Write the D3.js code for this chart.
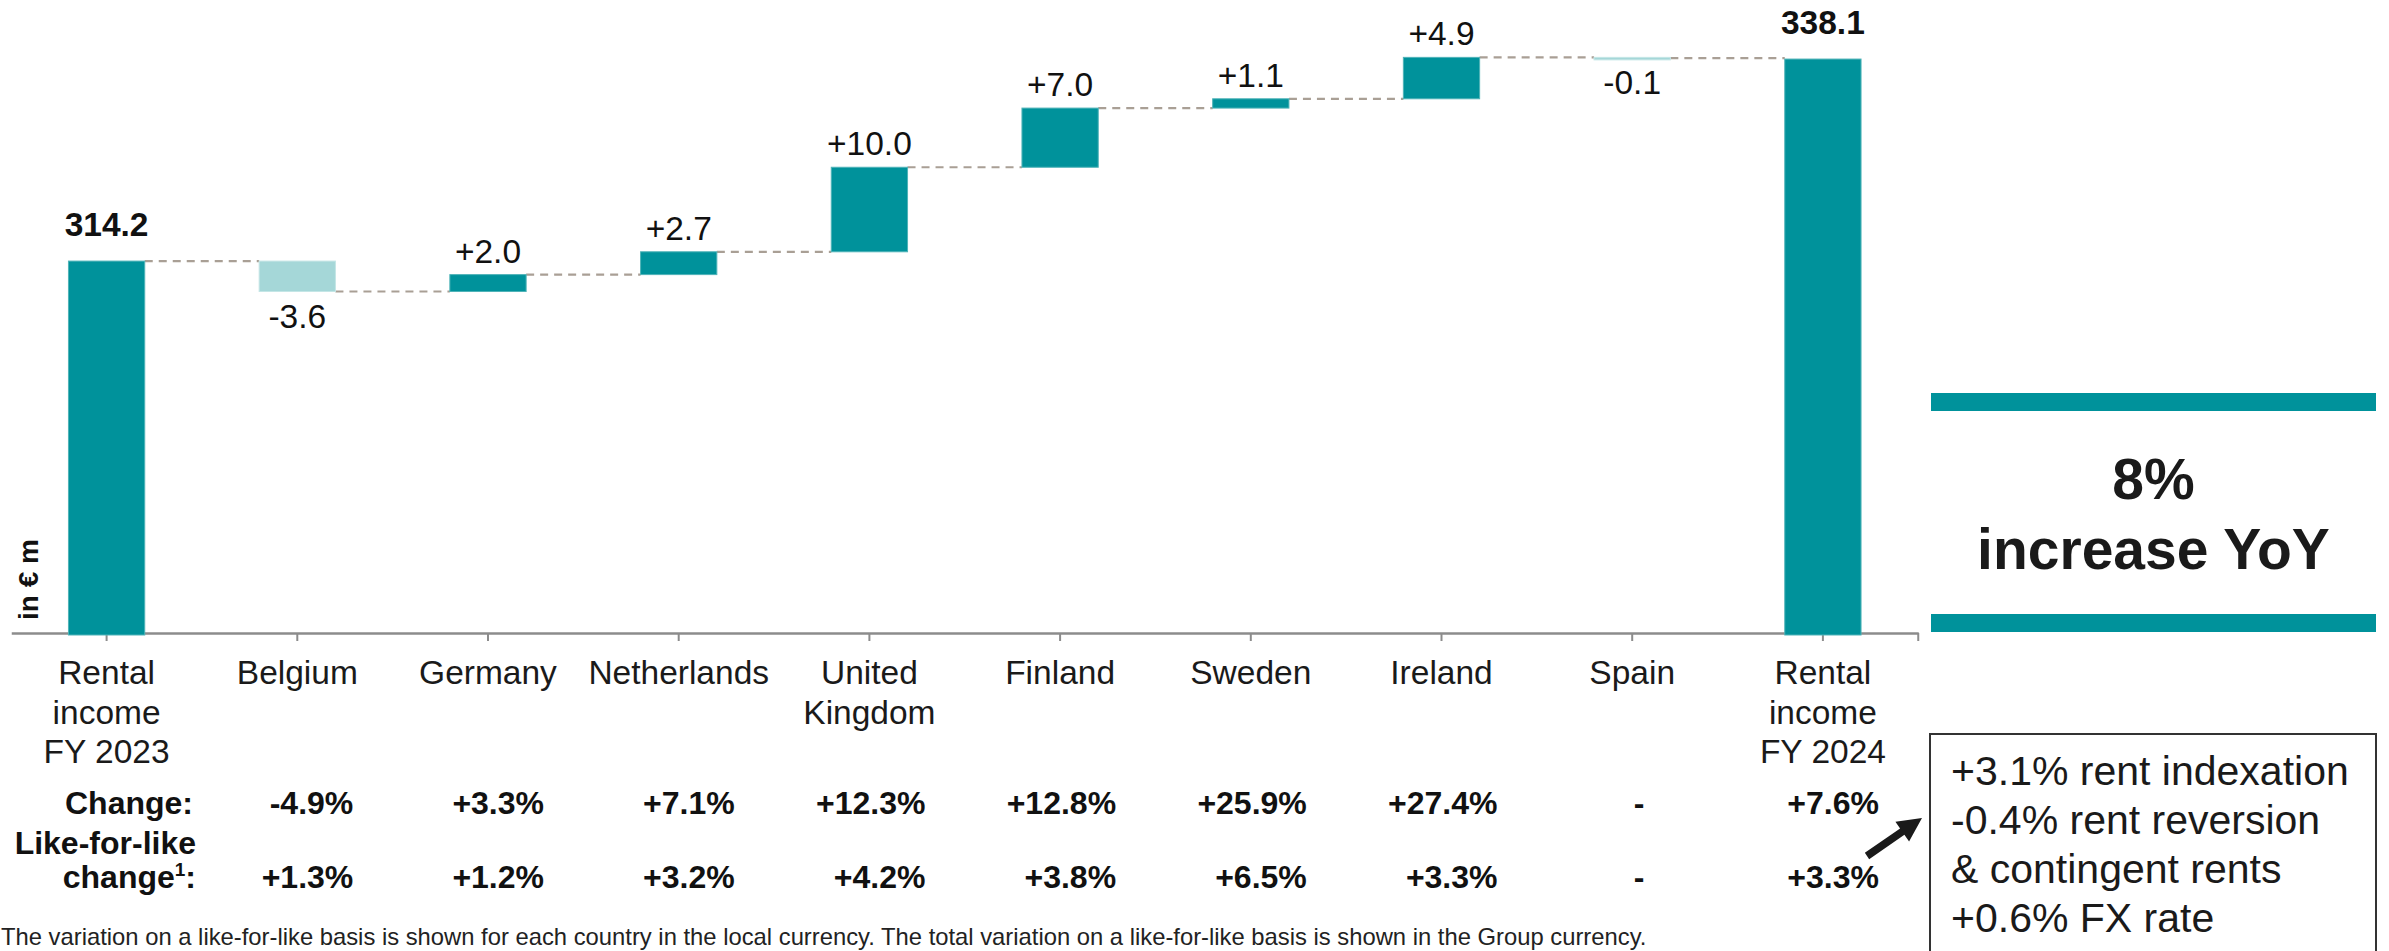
<!DOCTYPE html>
<html>
<head>
<meta charset="utf-8">
<script src="https://cdn.jsdelivr.net/npm/d3@7"></script>
<style>
    body { margin: 0; background: #fff; }
    svg { display: block; font-family: "Liberation Sans", Arial, sans-serif; }
</style>
</head>
<body>
<svg id="chart" width="2389" height="951"></svg>
<script>
// categories, each split into the lines shown under the axis
const categoryLines = [
    ["Rental", "income", "FY 2023"],
    ["Belgium"],
    ["Germany"],
    ["Netherlands"],
    ["United", "Kingdom"],
    ["Finland"],
    ["Sweden"],
    ["Ireland"],
    ["Spain"],
    ["Rental", "income", "FY 2024"]
]
const categories = categoryLines.map(d => d.join(" "))

// first and last are totals, the rest are changes (in € m)
const stepValues = [314.2, -3.6, 2.0, 2.7, 10.0, 7.0, 1.1, 4.9, -0.1, 338.1]
const stepLabels = ["314.2", "-3.6", "+2.0", "+2.7", "+10.0", "+7.0", "+1.1", "+4.9", "-0.1", "338.1"]

const changeLabels = ["", "-4.9%", "+3.3%", "+7.1%", "+12.3%", "+12.8%", "+25.9%", "+27.4%", "-", "+7.6%"]
const likeForLikeLabels = ["", "+1.3%", "+1.2%", "+3.2%", "+4.2%", "+3.8%", "+6.5%", "+3.3%", "-", "+3.3%"]

const headlineLines = ["8%", "increase YoY"]
const boxLines = ["+3.1% rent indexation", "-0.4% rent reversion", "& contingent rents", "+0.6% FX rate"]
const footnote = "The variation on a like-for-like basis is shown for each country in the local currency. The total variation on a like-for-like basis is shown in the Group currency."

const teal = "#00929b"
const lightTeal = "#a5d7d8"
const dashColor = "#a99f95"

let svg = d3.select("#chart")

// waterfall steps
let running = 0
let steps = stepValues.map((v, i) => {
    let total = i === 0 || i === stepValues.length - 1
    let start = total ? null : running
    let end = total ? v : running + v
    running = end
    return { cat: categories[i], value: v, total: total, start: start, end: end, label: stepLabels[i], i: i }
})

let x = d3.scaleBand()
    .domain(categories)
    .range([11.25, 1918.25])
    .paddingInner(0.6)
    .paddingOuter(0.3)

let y = d3.scaleLinear()
    .domain([270.2, 340])
    .range([633, 43])

let axisY = y.range()[0]

// axis with ticks at the bar centres
let axis = svg.append("g")
    .attr("transform", `translate(0,${axisY})`)
    .call(d3.axisBottom(x).tickSize(8).tickSizeOuter(0).tickFormat(""))
axis.select(".domain").attr("stroke", "#8c8c8c").attr("stroke-width", 2.5)
axis.selectAll(".tick line").attr("stroke", "#8c8c8c").attr("stroke-width", 2)
svg.append("line")
    .attr("x1", x.range()[1]).attr("x2", x.range()[1])
    .attr("y1", axisY).attr("y2", axisY + 8)
    .attr("stroke", "#8c8c8c").attr("stroke-width", 2)

// connectors
let connectors = steps.slice(0, -1).map((d, i) => ({ from: d, to: steps[i + 1], level: d.end }))
svg.append("g").selectAll("line")
    .data(connectors)
    .join("line")
    .attr("x1", d => x(d.from.cat) + x.bandwidth())
    .attr("x2", d => x(d.to.cat))
    .attr("y1", d => y(d.level))
    .attr("y2", d => y(d.level))
    .attr("stroke", dashColor)
    .attr("stroke-width", 2.2)
    .attr("stroke-dasharray", "8,6")

// bars
svg.append("g").selectAll("rect")
    .data(steps)
    .join("rect")
    .attr("x", d => x(d.cat))
    .attr("width", x.bandwidth())
    .attr("y", d => d.total ? y(d.value) : y(Math.max(d.start, d.end)))
    .attr("height", d => d.total ? axisY + 2 - y(d.value) : Math.max(2.5, Math.abs(y(d.start) - y(d.end))))
    .attr("fill", d => d.value < 0 ? lightTeal : teal)
    .attr("stroke", d => d.value < 0 ? "#c4e6e6" : "#4fb3b8")
    .attr("stroke-width", 1)

// value labels
svg.append("g").selectAll("text")
    .data(steps)
    .join("text")
    .attr("x", d => x(d.cat) + x.bandwidth() / 2)
    .attr("y", d => {
        if (d.total) return y(d.value) - 25
        if (d.value < 0) return y(d.end) + 36
        return y(d.end) - 12
    })
    .attr("text-anchor", "middle")
    .attr("font-size", 33.5)
    .attr("font-weight", d => d.total ? "bold" : "normal")
    .attr("fill", "#111")
    .text(d => d.label)

// category labels
let catText = svg.append("g").selectAll("text")
    .data(categoryLines.map((lines, i) => ({ lines: lines, cat: categories[i] })))
    .join("text")
    .attr("text-anchor", "middle")
    .attr("font-size", 33.5)
    .attr("fill", "#1a1a1a")
catText.selectAll("tspan")
    .data(d => d.lines.map(l => ({ text: l, cat: d.cat })))
    .join("tspan")
    .attr("x", d => x(d.cat) + x.bandwidth() / 2)
    .attr("y", (d, j) => 684 + j * 39.5)
    .text(d => d.text)

// like-for-like table
let rowBase = [814, 888]
let rows = [changeLabels, likeForLikeLabels]
rows.forEach((labels, r) => {
    svg.append("g").selectAll("text")
        .data(labels.map((l, i) => ({ text: l, cat: categories[i] })).filter(d => d.text !== ""))
        .join("text")
        .attr("x", d => d.text === "-" ? x(d.cat) + x.bandwidth() / 2 + 7 : x(d.cat) + x.bandwidth() / 2 + 56)
        .attr("y", rowBase[r])
        .attr("text-anchor", d => d.text === "-" ? "middle" : "end")
        .attr("font-size", 32)
        .attr("font-weight", "bold")
        .attr("fill", "#111")
        .text(d => d.text)
})

svg.append("text")
    .attr("x", 193).attr("y", rowBase[0])
    .attr("text-anchor", "end").attr("font-size", 32).attr("font-weight", "bold").attr("fill", "#111")
    .text("Change:")
svg.append("text")
    .attr("x", 196).attr("y", 854)
    .attr("text-anchor", "end").attr("font-size", 32).attr("font-weight", "bold").attr("fill", "#111")
    .text("Like-for-like")
let lfl = svg.append("text")
    .attr("x", 196).attr("y", rowBase[1])
    .attr("text-anchor", "end").attr("font-size", 32).attr("font-weight", "bold").attr("fill", "#111")
lfl.append("tspan").text("change")
lfl.append("tspan").attr("font-size", 19).attr("dy", -12).text("1")
lfl.append("tspan").attr("dy", 12).text(":")

// unit label
svg.append("text")
    .attr("transform", "translate(38,620) rotate(-90)")
    .attr("font-size", 28)
    .attr("font-weight", "bold")
    .attr("fill", "#111")
    .text("in € m")

// footnote
svg.append("text")
    .attr("x", 1).attr("y", 945)
    .attr("font-size", 23.8)
    .attr("fill", "#222")
    .text(footnote)

// right panel: headline between two teal rules
let panelX = 1931, panelW = 445
svg.append("rect").attr("x", panelX).attr("y", 393).attr("width", panelW).attr("height", 18).attr("fill", teal)
svg.append("rect").attr("x", panelX).attr("y", 614).attr("width", panelW).attr("height", 18).attr("fill", teal)
svg.append("g").selectAll("text")
    .data(headlineLines)
    .join("text")
    .attr("x", panelX + panelW / 2)
    .attr("y", (d, i) => 499 + i * 70)
    .attr("text-anchor", "middle")
    .attr("font-size", 57)
    .attr("font-weight", "bold")
    .attr("fill", "#1a1a1a")
    .text(d => d)

// breakdown box
svg.append("rect")
    .attr("x", 1930).attr("y", 734)
    .attr("width", 446).attr("height", 260)
    .attr("fill", "none").attr("stroke", "#333").attr("stroke-width", 2)
svg.append("g").selectAll("text")
    .data(boxLines)
    .join("text")
    .attr("x", 1951)
    .attr("y", (d, i) => 785 + i * 48.9)
    .attr("font-size", 41)
    .attr("fill", "#1a1a1a")
    .text(d => d)

// arrow pointing from the total like-for-like figure to the box
let tail = [1867, 856], tip = [1922, 818]
let dx = tip[0] - tail[0], dy = tip[1] - tail[1]
let len = Math.hypot(dx, dy)
let ux = dx / len, uy = dy / len, nx = -uy, ny = ux
let headLen = 24, headW = 12, shaftW = 3.8
let bx = tip[0] - ux * headLen, by = tip[1] - uy * headLen
let pts = [
    [tail[0] + nx * shaftW, tail[1] + ny * shaftW],
    [bx + nx * shaftW, by + ny * shaftW],
    [bx + nx * headW, by + ny * headW],
    tip,
    [bx - nx * headW, by - ny * headW],
    [bx - nx * shaftW, by - ny * shaftW],
    [tail[0] - nx * shaftW, tail[1] - ny * shaftW]
]
svg.append("path")
    .attr("d", d3.line()(pts) + "Z")
    .attr("fill", "#1a1a1a")
</script>
</body>
</html>
